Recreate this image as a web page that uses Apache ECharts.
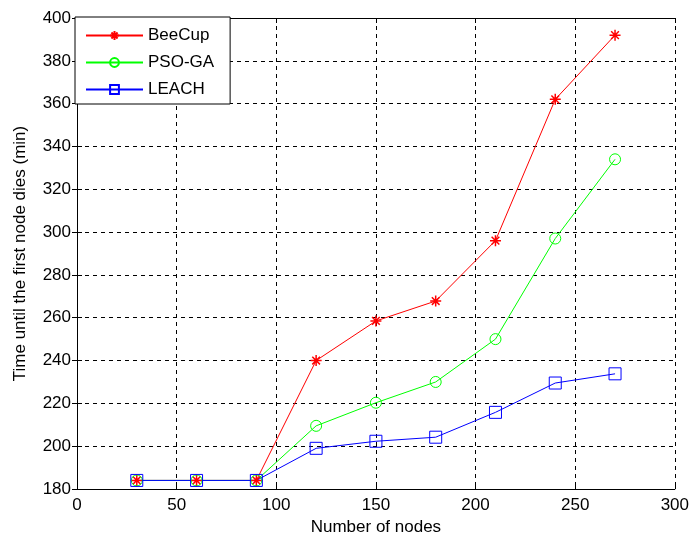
<!DOCTYPE html>
<html><head><meta charset="utf-8">
<script src="https://cdn.jsdelivr.net/npm/echarts@6/dist/echarts.min.js"></script>
<style>html,body{margin:0;padding:0;background:#fff}#c{width:692px;height:541px}</style>
</head><body><div id="c"></div>
<script>
const nodes = [30, 60, 90, 120, 150, 180, 210, 240, 270];
const beeCup = [184, 184, 184, 240, 258.5, 267.8, 296, 362, 392];
const psoGa = [184, 184, 184, 209.5, 220.3, 230, 250, 297, 334];
const leach = [184, 184, 184, 199, 202.3, 204.2, 215.8, 229.5, 233.8];
const seriesNames = ['BeeCup', 'PSO-GA', 'LEACH'];
const xTicks = {min: 0, max: 300, interval: 50};
const yTicks = {min: 180, max: 400, interval: 20};

const FONT = 'Liberation Sans, Arial, sans-serif';
const FS = 17;
const asterisk = 'path://M5,0 L5,10 M0,5 L10,5 M1.5,1.5 L8.5,8.5 M8.5,1.5 L1.5,8.5';
const pair = arr => nodes.map((x, i) => [x, arr[i]]);
const chart = echarts.init(document.getElementById('c'), null, {renderer: 'canvas'});
const axisLine = {show: true, lineStyle: {color: '#000', width: 1}};
const tick = {show: true, inside: true, length: 5, lineStyle: {color: '#000'}};
const split = {show: true, lineStyle: {color: '#000', type: [4, 4], width: 1}};
chart.setOption({
  animation: false,
  backgroundColor: '#fff',
  grid: {left: 77, right: 15, top: 18, bottom: 50, containLabel: false},
  legend: {
    left: 75, top: 17, orient: 'vertical',
    data: seriesNames,
    backgroundColor: '#fff', borderColor: '#000', borderWidth: 1,
    padding: [10, 16, 6, 10], itemGap: 10, itemWidth: 57, itemHeight: 11,
    textStyle: {fontFamily: FONT, fontSize: FS, color: '#000'}
  },
  xAxis: [{
    type: 'value', min: xTicks.min, max: xTicks.max, interval: xTicks.interval,
    name: 'Number of nodes', nameLocation: 'middle', nameGap: 30,
    nameTextStyle: {fontFamily: FONT, fontSize: FS, color: '#000'},
    axisLine, axisTick: tick, splitLine: split,
    axisLabel: {fontFamily: FONT, fontSize: FS, color: '#000', margin: 8}
  }, {
    type: 'value', position: 'top', min: xTicks.min, max: xTicks.max, interval: xTicks.interval,
    axisLine, axisTick: tick, splitLine: {show: false}, axisLabel: {show: false}
  }],
  yAxis: [{
    type: 'value', min: yTicks.min, max: yTicks.max, interval: yTicks.interval,
    name: 'Time until the first node dies (min)', nameLocation: 'middle', nameGap: 48,
    nameTextStyle: {fontFamily: FONT, fontSize: FS, color: '#000'},
    axisLine, axisTick: tick, splitLine: split,
    axisLabel: {fontFamily: FONT, fontSize: FS, color: '#000', margin: 6}
  }, {
    type: 'value', position: 'right', min: yTicks.min, max: yTicks.max, interval: yTicks.interval,
    axisLine, axisTick: tick, splitLine: {show: false}, axisLabel: {show: false}
  }],
  series: [
    {name: seriesNames[0], type: 'line', data: pair(beeCup), color: '#ff0000',
     symbol: asterisk, symbolSize: 11, showAllSymbol: true,
     lineStyle: {width: 1, color: '#ff0000'},
     itemStyle: {color: '#ff0000', borderColor: '#ff0000', borderWidth: 1.5}},
    {name: seriesNames[1], type: 'line', data: pair(psoGa), color: '#00ff00',
     symbol: 'circle', symbolSize: 11, showAllSymbol: true,
     lineStyle: {width: 1, color: '#00ff00'},
     itemStyle: {color: 'rgba(0,0,0,0)', borderColor: '#00ff00', borderWidth: 1}},
    {name: seriesNames[2], type: 'line', data: pair(leach), color: '#0000ff',
     symbol: 'rect', symbolSize: 12, showAllSymbol: true,
     lineStyle: {width: 1, color: '#0000ff'},
     itemStyle: {color: 'rgba(0,0,0,0)', borderColor: '#0000ff', borderWidth: 1}}
  ]
});
</script></body></html>
